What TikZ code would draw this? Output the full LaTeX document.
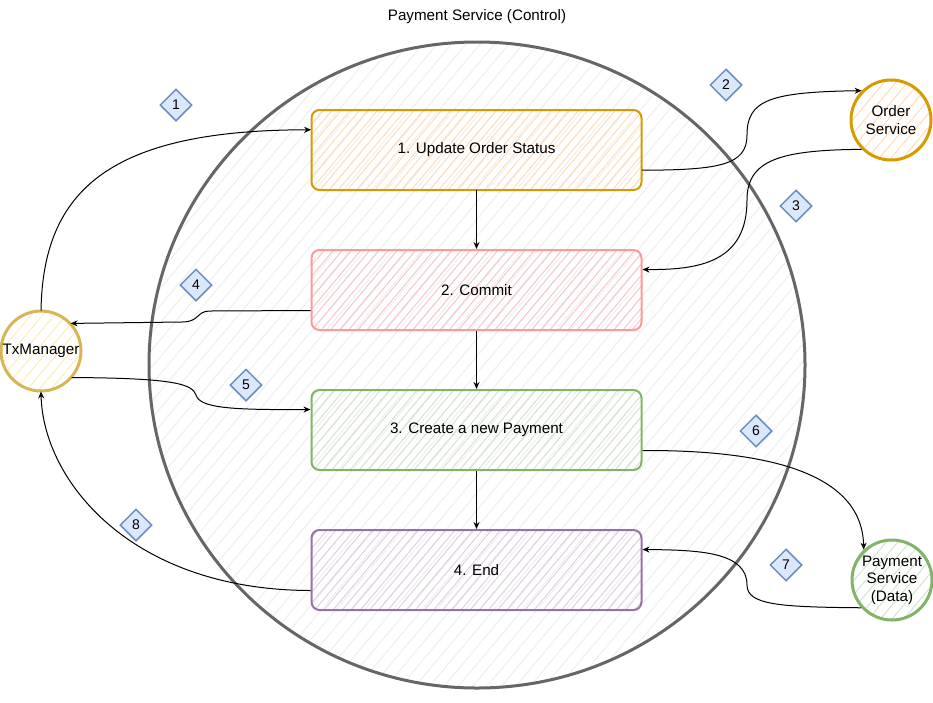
\documentclass[tikz,border=0pt]{standalone}
\usepackage{fontspec}
\setmainfont{Liberation Sans}
\usetikzlibrary{shapes.geometric,patterns.meta,arrows.meta,calc}
\definecolor{ctlline}{HTML}{666666}
\definecolor{ctlhatch}{HTML}{EEEEEE}
\definecolor{orline}{HTML}{D79B00}
\definecolor{orhatch}{HTML}{FFDAB3}
\definecolor{rdline}{HTML}{FF9999}
\definecolor{rdhatch}{HTML}{F8C2C2}
\definecolor{grline}{HTML}{82B366}
\definecolor{grhatch}{HTML}{CCE4CA}
\definecolor{puline}{HTML}{9673A6}
\definecolor{puhatch}{HTML}{DCCDE4}
\definecolor{ylline}{HTML}{D6B656}
\definecolor{ylhatch}{HTML}{FFEBB3}
\definecolor{bdfill}{HTML}{DAE8FC}
\definecolor{bdline}{HTML}{6C8EBF}
\tikzset{
  txt/.style={font=\fontsize{15.2}{17.5}\selectfont},
  stepbox/.style={txt, rounded corners=8pt, minimum width=330pt, minimum height=80pt,
    line width=2pt, pattern={Lines[angle=50,distance=7pt,line width=0.9pt]}},
  svc/.style={txt, circle, minimum size=80pt, inner sep=0pt, align=center, line width=3pt,
    pattern={Lines[angle=50,distance=9pt,line width=0.9pt]}},
  badge/.style={font=\fontsize{14}{16}\selectfont, diamond, minimum width=32pt, minimum height=32pt, inner sep=0pt,
    draw=bdline, fill=bdfill, line width=1.5pt},
  arr/.style={-{Stealth[open,length=7pt,width=6pt]}, line width=1pt, black},
}
\begin{document}
\begin{tikzpicture}[x=1pt,y=-1pt]
\useasboundingbox (0,0) rectangle (933,702);
\fill[white] (0,0) rectangle (933,702);

% control boundary
\node[ellipse, minimum width=656pt, minimum height=646pt, draw=ctlline, line width=3pt,
  pattern={Lines[angle=50,distance=11pt,line width=0.9pt]}, pattern color=ctlhatch] (ctl) at (477,365) {};
\node[txt] (title) at (477,17) {Payment Service (Control)};

% steps
\node[stepbox, draw=orline, pattern color=orhatch] (b1) at (476.5,150) {1. Update Order Status};
\node[stepbox, draw=rdline, pattern color=rdhatch] (b2) at (476.5,290) {2. Commit};
\node[stepbox, draw=grline, pattern color=grhatch] (b3) at (476.5,430) {3. Create a new Payment};
\node[stepbox, draw=puline, pattern color=puhatch] (b4) at (476.5,570) {4. End};

% services
\node[svc, draw=ylline, pattern color=ylhatch] (tx) at (41,351) {TxManager};
\node[svc, draw=orline, pattern color=orhatch] (os) at (891,120) {Order\\Service};
\node[svc, draw=grline, pattern color=grhatch] (pd) at (892,580) {Payment\\Service\\(Data)};

% vertical flow
\draw[arr] (b1.south) -- (b2.north);
\draw[arr] (b2.south) -- (b3.north);
\draw[arr] (b3.south) -- (b4.north);

% 1
\draw[arr] (tx.north) .. controls (43,190) and (110,130) .. ($(b1.north west)!0.25!(b1.south west)$);
% 2
\draw[arr] ($(b1.north east)!0.75!(b1.south east)$) .. controls (720,170) and (747,165) .. (747,135)
  .. controls (747,100) and (770,92) .. (os.135);
% 3
\draw[arr] (os.225) .. controls (780,150) and (747,160) .. (747,200)
  .. controls (747,262) and (700,270) .. ($(b2.north east)!0.25!(b2.south east)$);
% 4
\draw[arr] ($(b2.north west)!0.75!(b2.south west)$) -- (210,311) .. controls (196,311) and (200,322) .. (182,322) -- (tx.43);
% 5
\draw[arr] (tx.-41) .. controls (180,378) and (192,385) .. (196,395)
  .. controls (200,408) and (230,410) .. ($(b3.north west)!0.25!(b3.south west)$);
% 6
\draw[arr] ($(b3.north east)!0.75!(b3.south east)$) .. controls (760,450) and (862,470) .. (pd.133);
% 7
\draw[arr] (pd.222) .. controls (780,607) and (747,605) .. (747,585)
  .. controls (747,552) and (700,550) .. ($(b4.north east)!0.25!(b4.south east)$);
% 8
\draw[arr] ($(b4.north west)!0.75!(b4.south west)$) .. controls (130,590) and (43,480) .. (tx.south);

% badges
\node[badge] (n1) at (176,105) {1};
\node[badge] (n2) at (726,85) {2};
\node[badge] (n3) at (796,206) {3};
\node[badge] (n4) at (196,285) {4};
\node[badge] (n5) at (246,385) {5};
\node[badge] (n6) at (756,431) {6};
\node[badge] (n7) at (786,565) {7};
\node[badge] (n8) at (136,525) {8};
\end{tikzpicture}
\end{document}
